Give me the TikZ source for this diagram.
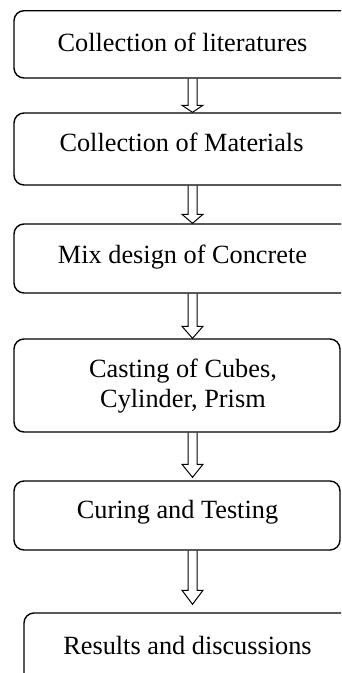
\documentclass[tikz,border=0pt]{standalone}
\usepackage{fontspec}
\setmainfont{Liberation Serif}
\usetikzlibrary{calc}
\tikzset{
  flowbox/.style={draw, line width=1.4pt, rounded corners=10pt, inner sep=0pt},
  boxtext/.style={anchor=base, inner sep=0pt, font=\fontsize{26.3}{30.2}\selectfont, align=center},
  blockarrow/.style={draw, line width=1pt, line join=miter},
}
\begin{document}
\begin{tikzpicture}[x=1pt,y=-1pt]
\useasboundingbox (0,0) rectangle (341,673);
\clip (0,0) rectangle (341,673);
% boxes
\node[flowbox, minimum width=337pt, minimum height=67.3pt] (b1) at (182.5,44.35) {};
\node[flowbox, minimum width=337pt, minimum height=72pt]   (b2) at (182.5,149) {};
\node[flowbox, minimum width=337pt, minimum height=69pt]   (b3) at (182.5,258.5) {};
\node[flowbox, minimum width=326pt, minimum height=93pt]   (b4) at (177,385.5) {};
\node[flowbox, minimum width=326pt, minimum height=69pt]   (b5) at (177,515.5) {};
\node[flowbox, minimum width=327pt, minimum height=74pt]   (b6) at (187.5,650) {};
% texts
\node[boxtext] (t1) at (182.5,51) {Collection of literatures};
\node[boxtext] (t2) at (181.5,151) {Collection of Materials};
\node[boxtext] (t3) at (182.5,263) {Mix design of Concrete};
\node[boxtext] (t4a) at (183,377) {Casting of Cubes,};
\node[boxtext] (t4b) at (183,407) {Cylinder, Prism};
\node[boxtext] (t5) at (177.5,518) {Curing and Testing};
\node[boxtext] (t6) at (187.5,654) {Results and discussions};
% hollow block arrows
\draw[blockarrow] let \p1=(b1.south), \p2=(b2.north) in
  (188pt,\y1) -- (188pt,\y2+7pt) -- (182pt,\y2+7pt) -- (192.5pt,\y2)
  -- (203pt,\y2+7pt) -- (197pt,\y2+7pt) -- (197pt,\y1);
\draw[blockarrow] let \p1=(b2.south), \p2=(b3.north) in
  (188pt,\y1) -- (188pt,\y2+9pt) -- (182pt,\y2+9pt) -- (192.5pt,\y2)
  -- (203pt,\y2+9pt) -- (197pt,\y2+9pt) -- (197pt,\y1);
\draw[blockarrow] let \p1=(b3.south), \p2=(b4.north) in
  (188pt,\y1) -- (188pt,\y2+12pt) -- (182pt,\y2+12pt) -- (192.5pt,\y2)
  -- (203pt,\y2+12pt) -- (197pt,\y2+12pt) -- (197pt,\y1);
\draw[blockarrow] let \p1=(b4.south), \p2=(b5.north) in
  (188pt,\y1) -- (188pt,\y2+16pt) -- (182pt,\y2+16pt) -- (192.5pt,\y2+3pt)
  -- (203pt,\y2+16pt) -- (197pt,\y2+16pt) -- (197pt,\y1);
\draw[blockarrow] let \p1=(b5.south), \p2=(b6.north) in
  (188pt,\y1) -- (188pt,\y2+22pt) -- (182pt,\y2+22pt) -- (192.5pt,\y2+8pt)
  -- (203pt,\y2+22pt) -- (197pt,\y2+22pt) -- (197pt,\y1);
\end{tikzpicture}
\end{document}
